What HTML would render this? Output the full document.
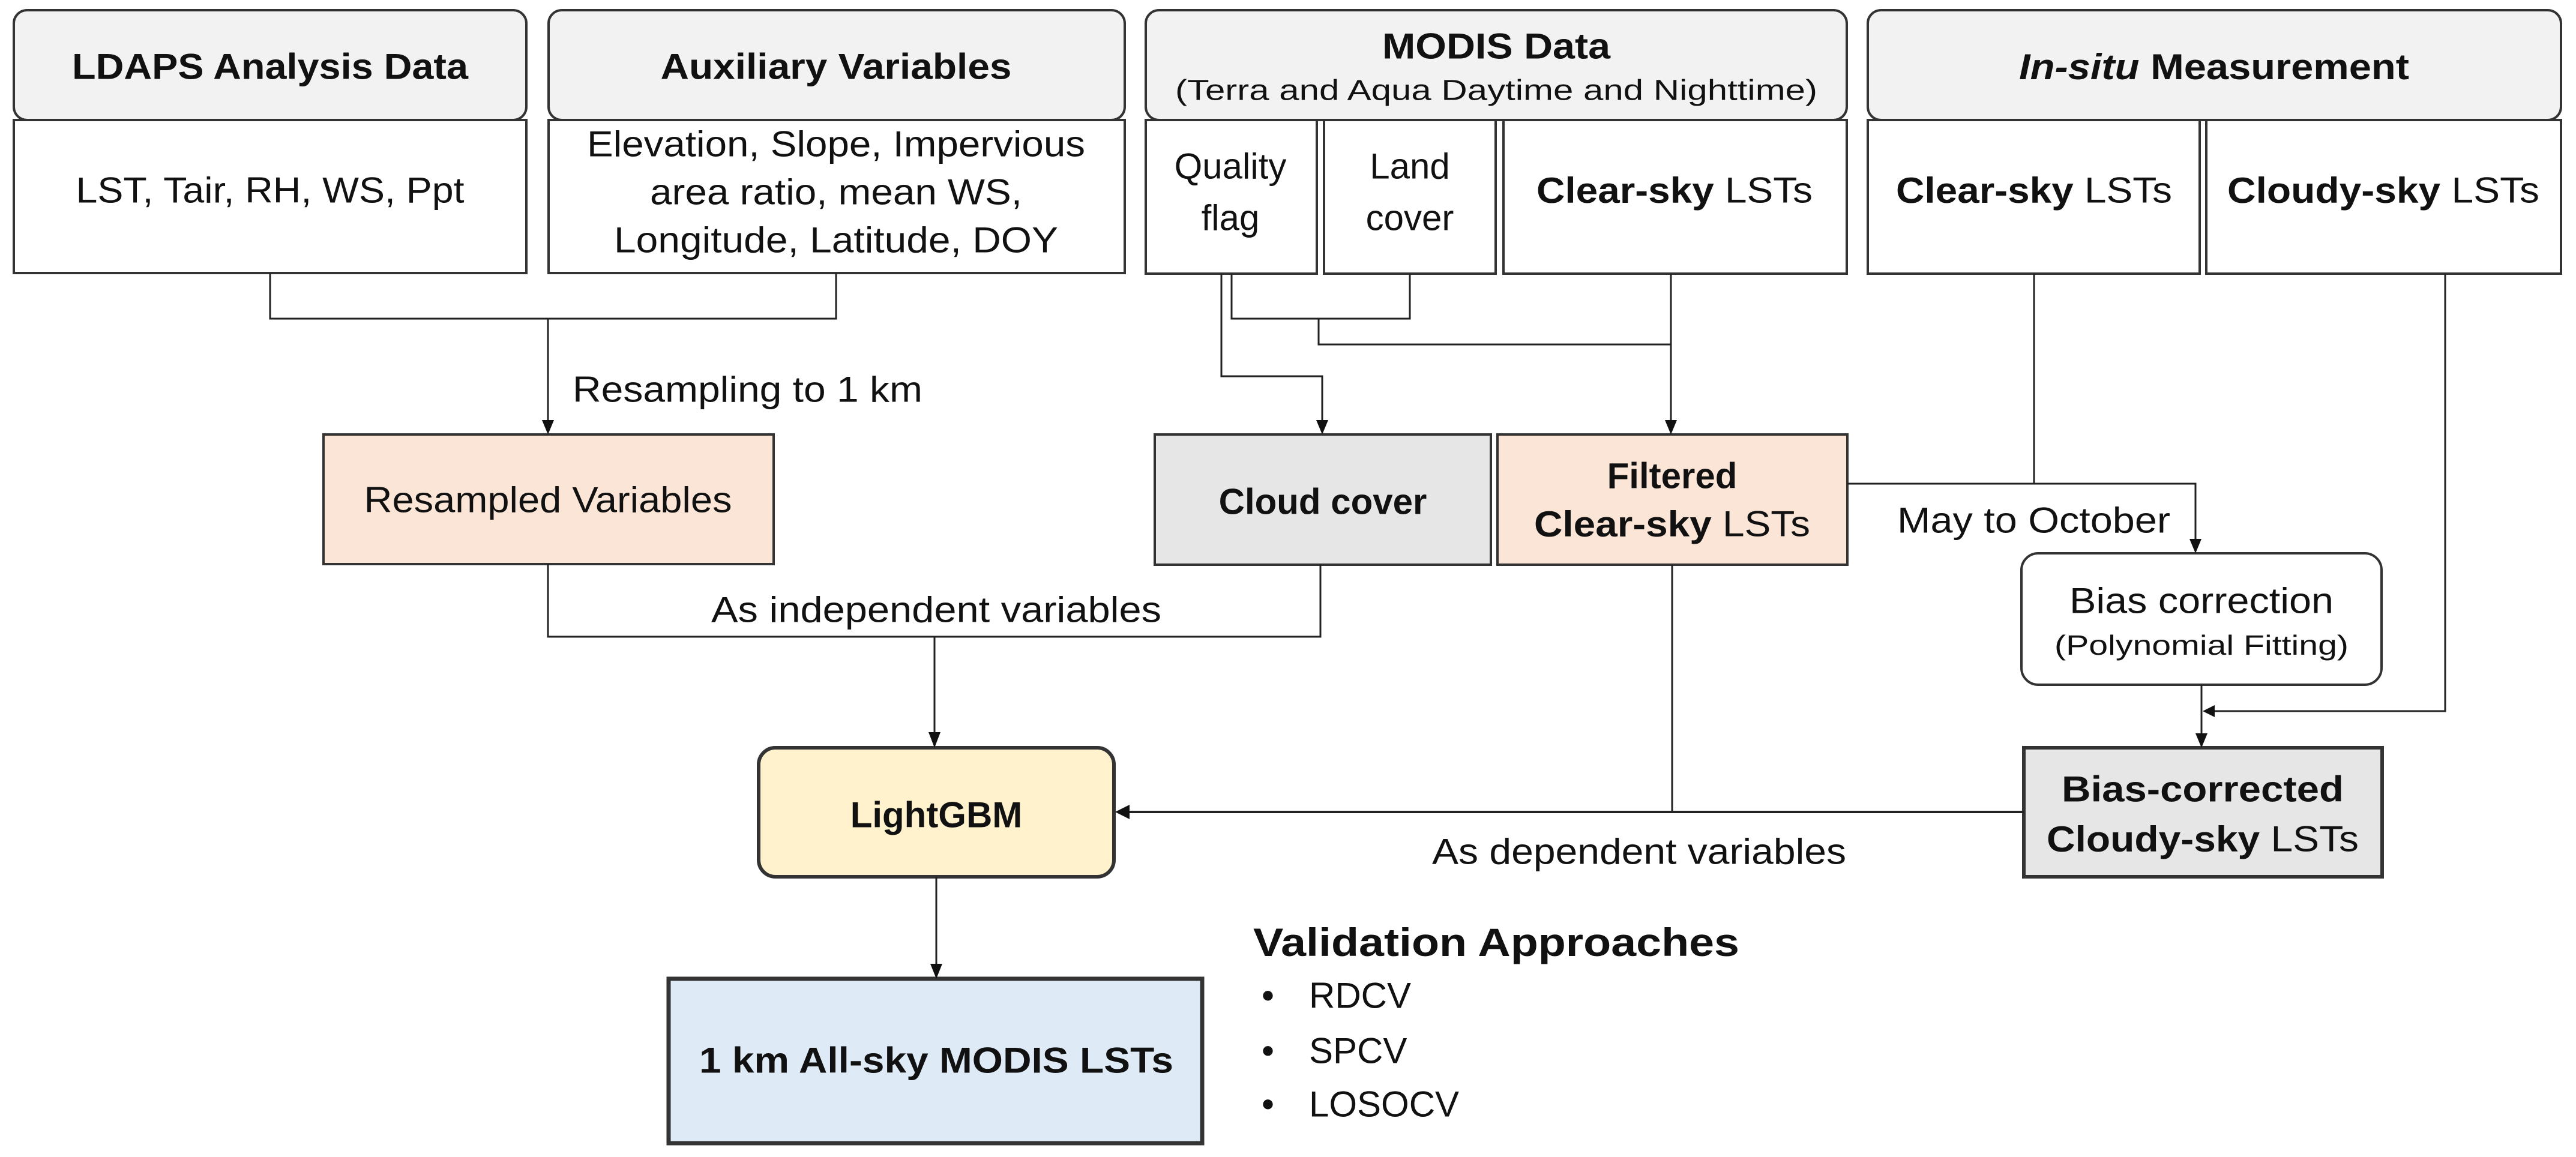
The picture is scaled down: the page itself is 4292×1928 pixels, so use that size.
<!DOCTYPE html>
<html><head><meta charset="utf-8"><style>
html,body{margin:0;padding:0;background:#fff;}
svg{display:block;}
text{font-family:"Liberation Sans",Arial,sans-serif;fill:#111;}
</style></head><body>
<svg width="4292" height="1928" viewBox="0 0 4292 1928" xmlns="http://www.w3.org/2000/svg">
<g stroke="#333" stroke-width="4" fill="#fff">
<rect x="23" y="200" width="854" height="255"/>
<rect x="23" y="17" width="854" height="183" rx="22" fill="#f2f2f2"/>
<rect x="914" y="200" width="960" height="255"/>
<rect x="914" y="17" width="960" height="183" rx="22" fill="#f2f2f2"/>
<rect x="1909" y="200" width="285" height="256"/>
<rect x="2206" y="200" width="286" height="256"/>
<rect x="2505" y="200" width="572" height="256"/>
<rect x="1909" y="17" width="1168" height="183" rx="22" fill="#f2f2f2"/>
<rect x="3112" y="200" width="553" height="256"/>
<rect x="3676" y="200" width="591" height="256"/>
<rect x="3112" y="17" width="1155" height="183" rx="22" fill="#f2f2f2"/>
<rect x="539" y="724" width="750" height="216" fill="#fbe5d6"/>
<rect x="1924" y="724" width="560" height="217" fill="#e6e6e6"/>
<rect x="2495" y="724" width="583" height="217" fill="#fbe5d6"/>
<rect x="3368" y="922" width="600" height="219" rx="28"/>
<rect x="3372" y="1246" width="597" height="215" fill="#e6e6e6" stroke-width="6"/>
<rect x="1264" y="1246" width="592" height="215" rx="28" fill="#fff2cc" stroke-width="6"/>
<rect x="1114" y="1631" width="889" height="274" fill="#deebf7" stroke-width="7"/>
</g>
<g stroke="#222" stroke-width="3" fill="none">
<polyline points="450,455 450,531 1393,531 1393,455"/>
<line x1="913" y1="531" x2="913" y2="700"/>
<polyline points="2052,456 2052,531 2349,531 2349,456"/>
<polyline points="2035,456 2035,627 2203,627 2203,700"/>
<polyline points="2197,531 2197,574 2784,574"/>
<line x1="2784" y1="456" x2="2784" y2="700"/>
<polyline points="3078,806 3658,806 3658,900"/>
<line x1="3389" y1="456" x2="3389" y2="806"/>
<polyline points="4074,456 4074,1185 3690,1185"/>
<line x1="3668" y1="1141" x2="3668" y2="1225"/>
<polyline points="913,940 913,1061 2200,1061 2200,941"/>
<line x1="1557" y1="1061" x2="1557" y2="1222"/>
<line x1="2786" y1="941" x2="2786" y2="1353"/>
<line x1="3372" y1="1353" x2="1878" y2="1353" stroke-width="4"/>
<line x1="1560" y1="1461" x2="1560" y2="1608"/>
</g>
<g fill="#111">
<polygon points="903,700 923,700 913,724"/>
<polygon points="2193,700 2213,700 2203,724"/>
<polygon points="2774,700 2794,700 2784,724"/>
<polygon points="3648,898 3668,898 3658,922"/>
<polygon points="3690,1175 3690,1195 3670,1185"/>
<polygon points="3658,1222 3678,1222 3668,1246"/>
<polygon points="1547,1220 1567,1220 1557,1246"/>
<polygon points="1882,1341 1882,1365 1858,1353"/>
<polygon points="1550,1606 1570,1606 1560,1631"/>
</g>
<g text-anchor="middle" dominant-baseline="central" font-size="60">
<text x="450" y="111" font-weight="bold" textLength="660" lengthAdjust="spacingAndGlyphs">LDAPS Analysis Data</text>
<text x="1393" y="111" font-weight="bold" textLength="585" lengthAdjust="spacingAndGlyphs">Auxiliary Variables</text>
<text x="2493" y="77" font-weight="bold" textLength="380" lengthAdjust="spacingAndGlyphs">MODIS Data</text>
<text x="2493" y="151" font-size="48" textLength="1070" lengthAdjust="spacingAndGlyphs">(Terra and Aqua Daytime and Nighttime)</text>
<text x="3689" y="111" textLength="650" lengthAdjust="spacingAndGlyphs"><tspan font-style="italic" font-weight="bold">In-situ</tspan><tspan font-weight="bold"> Measurement</tspan></text>
<text x="450" y="317" textLength="647" lengthAdjust="spacingAndGlyphs">LST, Tair, RH, WS, Ppt</text>
<text x="1393" y="240" textLength="830" lengthAdjust="spacingAndGlyphs">Elevation, Slope, Impervious</text>
<text x="1393" y="320" textLength="620" lengthAdjust="spacingAndGlyphs">area ratio, mean WS,</text>
<text x="1393" y="400" textLength="740" lengthAdjust="spacingAndGlyphs">Longitude, Latitude, DOY</text>
<text x="2050" y="277">Quality</text>
<text x="2050" y="363">flag</text>
<text x="2349" y="277">Land</text>
<text x="2349" y="363">cover</text>
<text x="2790" y="317" textLength="460" lengthAdjust="spacingAndGlyphs"><tspan font-weight="bold">Clear-sky</tspan> LSTs</text>
<text x="3389" y="317" textLength="460" lengthAdjust="spacingAndGlyphs"><tspan font-weight="bold">Clear-sky</tspan> LSTs</text>
<text x="3971" y="317" textLength="520" lengthAdjust="spacingAndGlyphs"><tspan font-weight="bold">Cloudy-sky</tspan> LSTs</text>
<text x="954" y="649" text-anchor="start" textLength="583" lengthAdjust="spacingAndGlyphs">Resampling to 1 km</text>
<text x="913" y="833" textLength="613" lengthAdjust="spacingAndGlyphs">Resampled Variables</text>
<text x="2204" y="836" font-weight="bold">Cloud cover</text>
<text x="2786" y="793" font-weight="bold">Filtered</text>
<text x="2786" y="873" textLength="460" lengthAdjust="spacingAndGlyphs"><tspan font-weight="bold">Clear-sky</tspan> LSTs</text>
<text x="3161" y="867" text-anchor="start" textLength="455" lengthAdjust="spacingAndGlyphs">May to October</text>
<text x="3668" y="1001" textLength="440" lengthAdjust="spacingAndGlyphs">Bias correction</text>
<text x="3668" y="1075" font-size="46" textLength="490" lengthAdjust="spacingAndGlyphs">(Polynomial Fitting)</text>
<text x="1560" y="1016" textLength="750" lengthAdjust="spacingAndGlyphs">As independent variables</text>
<text x="1560" y="1358" font-weight="bold">LightGBM</text>
<text x="3670" y="1315" font-weight="bold" textLength="470" lengthAdjust="spacingAndGlyphs">Bias-corrected</text>
<text x="3670" y="1398" textLength="520" lengthAdjust="spacingAndGlyphs"><tspan font-weight="bold">Cloudy-sky</tspan> LSTs</text>
<text x="2731" y="1419" textLength="690" lengthAdjust="spacingAndGlyphs">As dependent variables</text>
<text x="1560" y="1767" font-weight="bold" textLength="790" lengthAdjust="spacingAndGlyphs">1 km All-sky MODIS LSTs</text>
<text x="2088" y="1570" text-anchor="start" font-weight="bold" font-size="66" textLength="810" lengthAdjust="spacingAndGlyphs">Validation Approaches</text>
<text x="2102" y="1659" text-anchor="start">•</text>
<text x="2181" y="1659" text-anchor="start">RDCV</text>
<text x="2102" y="1751" text-anchor="start">•</text>
<text x="2181" y="1751" text-anchor="start">SPCV</text>
<text x="2102" y="1840" text-anchor="start">•</text>
<text x="2181" y="1840" text-anchor="start">LOSOCV</text>
</g>
</svg>
</body></html>
